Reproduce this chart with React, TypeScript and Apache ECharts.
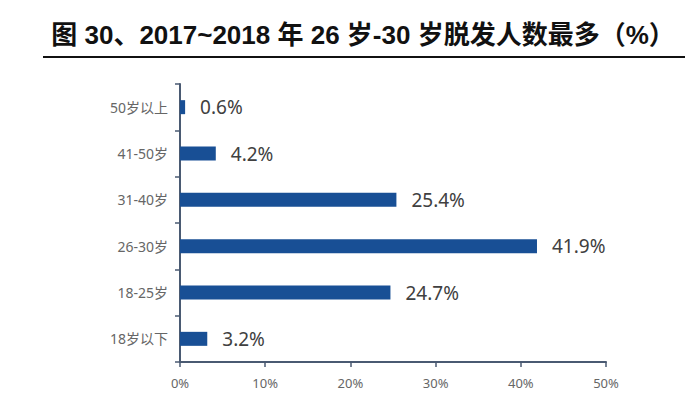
import React, { useEffect, useRef } from "react";
import * as echarts from "echarts";

const categories = ["50岁以上", "41-50岁", "31-40岁", "26-30岁", "18-25岁", "18岁以下"];
const values = [0.6, 4.2, 25.4, 41.9, 24.7, 3.2];
const xTicks = { min: 0, max: 50, interval: 10 };
const titleText = "图 30、2017~2018 年 26 岁-30 岁脱发人数最多（%）";

export default function App() {
  const ref = useRef<HTMLDivElement>(null);
  useEffect(() => {
    if (!ref.current) return;
    const chart = echarts.init(ref.current, undefined, { renderer: "svg" });
    chart.setOption({
      animation: false,
      backgroundColor: "#ffffff",
      title: {
        text: titleText,
        left: 358,
        textAlign: "center",
        top: 17,
        textStyle: {
          fontFamily: "'Liberation Sans', 'Noto Sans CJK SC', sans-serif",
          fontWeight: "bold",
          fontSize: 26,
          color: "#111111",
        },
      },
      graphic: [
        {
          type: "line",
          shape: { x1: 43, y1: 57, x2: 685, y2: 57 },
          style: { stroke: "#111111", lineWidth: 2 },
        },
      ],
      grid: { left: 180, right: 87, top: 84, bottom: 32, containLabel: false },
      xAxis: {
        type: "value",
        min: xTicks.min,
        max: xTicks.max,
        interval: xTicks.interval,
        axisLine: { show: true, lineStyle: { color: "#4a5a72", width: 2 } },
        axisTick: { show: true, length: 5, lineStyle: { color: "#4a5a72", width: 1.5 } },
        splitLine: { show: false },
        axisLabel: {
          formatter: "{value}%",
          color: "#666666",
          fontSize: 13,
          margin: 14,
          fontFamily: "'Noto Sans', 'Noto Sans CJK SC', sans-serif",
        },
      },
      yAxis: {
        type: "category",
        data: categories,
        inverse: true,
        axisLine: { show: true, lineStyle: { color: "#4a5a72", width: 2 } },
        axisTick: { show: true, length: 5, lineStyle: { color: "#4a5a72", width: 1.5 } },
        axisLabel: {
          color: "#666666",
          fontSize: 14,
          margin: 12,
          fontFamily: "'Noto Sans', 'Noto Sans CJK SC', sans-serif",
        },
      },
      series: [
        {
          type: "bar",
          data: values,
          barWidth: 14,
          itemStyle: { color: "#184f95" },
          label: {
            show: true,
            position: "right",
            distance: 15,
            formatter: (p: any) => `${Number(p.value).toFixed(1)}%`,
            color: "#404040",
            fontSize: 19,
            fontFamily: "'Noto Sans', 'Noto Sans CJK SC', sans-serif",
          },
        },
      ],
    });
    return () => chart.dispose();
  }, []);
  return <div ref={ref} style={{ width: 693, height: 394, position: "absolute", left: 0, top: 0 }} />;
}
